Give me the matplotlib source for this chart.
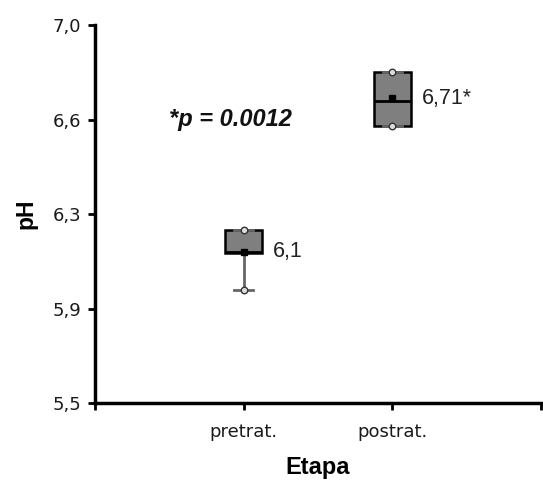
import matplotlib
matplotlib.use("Agg")
import matplotlib.pyplot as plt
import numpy as np

plt.rcParams['font.family'] = ['Liberation Sans', 'DejaVu Sans']

categories = ['pretrat.', 'postrat.']
whisker_low = [5.95, 6.60]
q1 = [6.095, 6.60]
median = [6.10, 6.70]
q3 = [6.185, 6.815]
whisker_high = [6.185, 6.815]
means = [6.10, 6.71]
value_labels = ['6,1', '6,71*']
y_ticks = np.linspace(5.5, 7.0, 5)
y_tick_labels = ['5,5', '5,9', '6,3', '6,6', '7,0']
annotation = '*p = 0.0012'

fig = plt.figure(figsize=(5.43, 4.8), dpi=100)
ax = fig.add_axes([0.175, 0.160, 0.821, 0.788])

positions = [1, 2]
stats = []
for i in range(len(categories)):
    stats.append(dict(whislo=whisker_low[i], q1=q1[i], med=median[i], q3=q3[i],
                      whishi=whisker_high[i], mean=means[i], fliers=[], label=categories[i]))

ax.bxp(stats, positions=positions, widths=0.25, patch_artist=True, showmeans=True,
       showfliers=False,
       boxprops=dict(facecolor='#7f7f7f', edgecolor='black', linewidth=1.8),
       medianprops=dict(color='black', linewidth=2.0),
       whiskerprops=dict(color='#666666', linewidth=2.0),
       capprops=dict(color='#666666', linewidth=2.0),
       meanprops=dict(marker='s', markerfacecolor='black', markeredgecolor='black', markersize=5))

for i, p in enumerate(positions):
    ax.scatter([p, p], [whisker_low[i], whisker_high[i]], s=22, facecolor='#dddddd',
               edgecolor='#333333', linewidth=1.0, zorder=5)
    ax.text(p + 0.2, means[i], value_labels[i], fontsize=15.5, va='center', ha='left',
            color='#222222')

ax.text(0.91, 6.627, annotation, fontsize=17, fontweight='bold', fontstyle='italic',
        ha='center', va='center', color='#111111')

ax.set_xlim(0, 3)
ax.set_ylim(5.5, 7.0)
ax.set_xticks([0, 1, 2, 3])
ax.set_xticklabels(['', categories[0], categories[1], ''])
ax.set_yticks(y_ticks)
ax.set_yticklabels(y_tick_labels)
ax.tick_params(axis='both', direction='out', length=5, width=2, colors='black',
               labelcolor='#1a1a1a')
for lab in ax.get_xticklabels() + ax.get_yticklabels():
    lab.set_fontfamily('DejaVu Sans')
    lab.set_fontsize(13)
ax.tick_params(axis='y', pad=5)
ax.tick_params(axis='x', pad=9)
for s in ['top', 'right']:
    ax.spines[s].set_visible(False)
for s in ['left', 'bottom']:
    ax.spines[s].set_linewidth(2.5)

ax.set_ylabel('pH', fontsize=16.5, fontweight='bold', labelpad=11)
ax.set_xlabel('Etapa', fontsize=17, fontweight='bold', labelpad=11)

fig.savefig('out.png', dpi=100)
